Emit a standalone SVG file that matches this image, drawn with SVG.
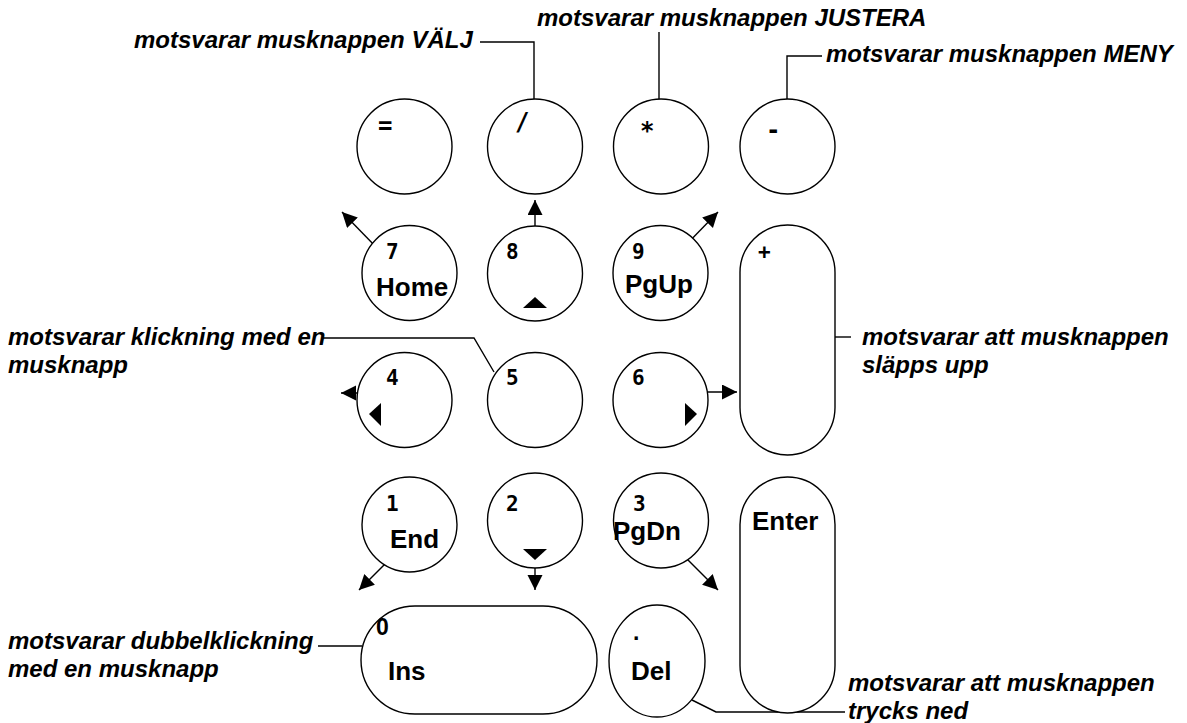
<svg xmlns="http://www.w3.org/2000/svg" width="1187" height="723" viewBox="0 0 1187 723">
<defs>
<marker id="ah" markerUnits="userSpaceOnUse" markerWidth="16" markerHeight="16" refX="15" refY="7.5" orient="auto">
<path d="M0,0 L15,7.5 L0,15 z" fill="#000"/>
</marker>
<style>
.k{fill:#fff;stroke:#000;stroke-width:1.4}
.d{font-family:"DejaVu Sans Mono",monospace;font-weight:bold;font-size:21px;fill:#000}
.o{font-family:"DejaVu Sans Mono",monospace;font-weight:bold;font-size:24px;fill:#000}
.n{font-family:"Liberation Sans",Arial,sans-serif;font-weight:bold;font-size:26px;fill:#000}
.s{font-family:"Liberation Sans",Arial,sans-serif;font-weight:bold;font-size:23px;fill:#000}
.l{font-family:"Liberation Sans",Arial,sans-serif;font-weight:bold;font-style:italic;font-size:24px;fill:#000}
.c{fill:none;stroke:#000;stroke-width:1.4}
.a{fill:none;stroke:#000;stroke-width:1.4;marker-end:url(#ah)}
.t{fill:#000}
</style>
</defs>
<rect width="1187" height="723" fill="#fff"/>

<g id="connectors">
<polyline class="c" points="480,42 534,42 534,99"/>
<line class="c" x1="659" y1="32" x2="659" y2="99"/>
<polyline class="c" points="822,56 787,56 787,99"/>
<polyline class="c" points="322,338 474,338 494,372"/>
<line class="c" x1="835" y1="337" x2="851" y2="337"/>
<line class="c" x1="318" y1="646" x2="362" y2="646"/>
<polyline class="c" points="692,700 716,712 845,712"/>
<line class="a" x1="377" y1="248" x2="342" y2="212"/>
<line class="a" x1="535" y1="255" x2="535" y2="200"/>
<line class="a" x1="682" y1="249" x2="718" y2="212"/>
<line class="a" x1="388" y1="393" x2="341" y2="393"/>
<line class="a" x1="699" y1="392" x2="737" y2="392"/>
<line class="a" x1="395" y1="554" x2="359" y2="590"/>
<line class="a" x1="535" y1="536" x2="535" y2="590"/>
<line class="a" x1="682" y1="554" x2="718" y2="590"/>
</g>

<g id="key-eq"><circle class="k" cx="404.5" cy="146.5" r="47.5"/><text class="o" x="378" y="134">=</text></g>
<g id="key-div"><circle class="k" cx="535" cy="146.5" r="47.5"/><text class="o" x="515" y="130">/</text></g>
<g id="key-mul"><circle class="k" cx="661" cy="146.5" r="47.5"/><text class="o" x="640" y="139">*</text></g>
<g id="key-sub"><circle class="k" cx="787.5" cy="146.5" r="47.5"/><text class="o" x="766" y="138">-</text></g>

<g id="key-7"><circle class="k" cx="409.5" cy="273" r="47.5"/><text class="d" x="386" y="259">7</text><text class="n" x="376" y="296">Home</text></g>
<g id="key-8"><circle class="k" cx="535" cy="273.5" r="47.5"/><text class="d" x="506" y="259">8</text><path class="t" d="M535,297 L547,308 L523,308 z"/></g>
<g id="key-9"><circle class="k" cx="660.5" cy="273" r="47.5"/><text class="d" x="632" y="259">9</text><text class="n" x="625" y="293">PgUp</text></g>
<g id="key-plus"><rect class="k" x="740" y="225" width="95" height="230" rx="47.5"/><text class="d" x="758" y="259">+</text></g>

<g id="key-4"><circle class="k" cx="404.5" cy="400" r="47.5"/><text class="d" x="386" y="385">4</text><path class="t" d="M369,414 L381,403 L381,426 z"/></g>
<g id="key-5"><circle class="k" cx="535" cy="400" r="47.5"/><text class="d" x="506" y="385">5</text></g>
<g id="key-6"><circle class="k" cx="660.5" cy="400" r="47.5"/><text class="d" x="632" y="385">6</text><path class="t" d="M697,414 L685,403 L685,426 z"/></g>

<g id="key-1"><circle class="k" cx="409.5" cy="524.5" r="47.5"/><text class="d" x="386" y="511">1</text><text class="n" x="390" y="548">End</text></g>
<g id="key-2"><circle class="k" cx="535" cy="520.5" r="47.5"/><text class="d" x="506" y="511">2</text><path class="t" d="M535,560 L547,549 L523,549 z"/></g>
<g id="key-3"><circle class="k" cx="661" cy="520.5" r="47.5"/><text class="d" x="633" y="511">3</text><text class="n" x="613" y="540">PgDn</text></g>
<g id="key-enter"><rect class="k" x="740" y="477" width="95" height="236" rx="47.5"/><text class="n" x="752" y="530">Enter</text></g>

<g id="key-0"><rect class="k" x="361" y="606" width="236" height="108" rx="54"/><text class="s" x="376" y="635">0</text><text class="n" x="388" y="680">Ins</text></g>
<g id="key-del"><ellipse class="k" cx="657" cy="661" rx="48" ry="56"/><text class="s" x="633" y="640">.</text><text class="n" x="631" y="680">Del</text></g>

<g id="labels">
<text class="l" x="134" y="48">motsvarar musknappen VÄLJ</text>
<text class="l" x="537" y="26">motsvarar musknappen JUSTERA</text>
<text class="l" x="826" y="62">motsvarar musknappen MENY</text>
<text class="l" x="8" y="345">motsvarar klickning med en</text>
<text class="l" x="8" y="373">musknapp</text>
<text class="l" x="862" y="345">motsvarar att musknappen</text>
<text class="l" x="862" y="373">släpps upp</text>
<text class="l" x="8" y="649">motsvarar dubbelklickning</text>
<text class="l" x="8" y="677">med en musknapp</text>
<text class="l" x="848" y="691">motsvarar att musknappen</text>
<text class="l" x="848" y="719">trycks ned</text>
</g>
</svg>
